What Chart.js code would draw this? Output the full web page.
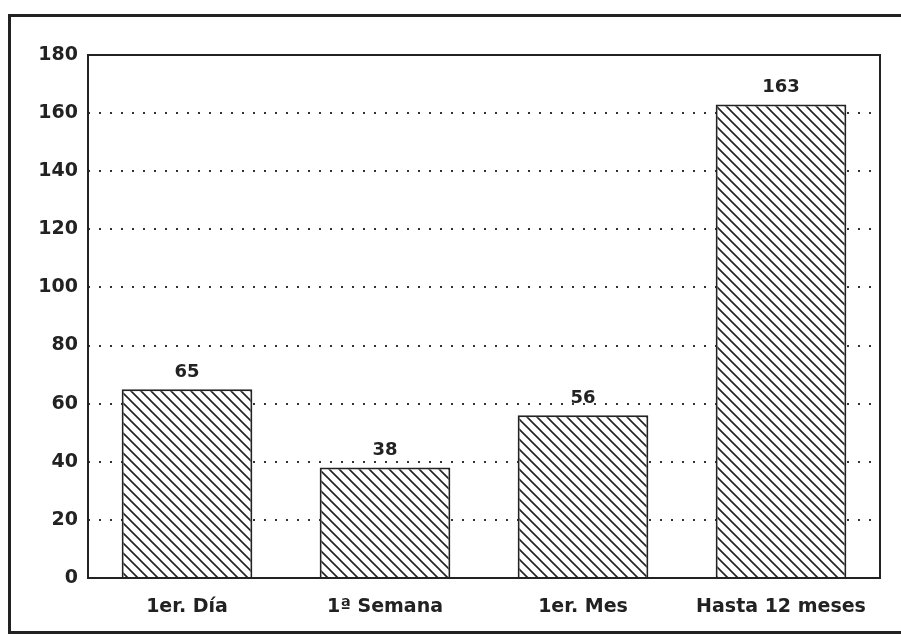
<!DOCTYPE html>
<html>
<head>
<meta charset="utf-8">
<script src="https://cdn.jsdelivr.net/npm/chart.js@4.4.0/dist/chart.umd.min.js"></script>
<style>
  body { margin: 0; background: #fff; }
  #marco { position: absolute; left: 8px; top: 14px; width: 900px; height: 614px;
           border-left: 3px solid #222; border-top: 3px solid #222; border-bottom: 3px solid #222; }
  #grafico { position: absolute; left: 0; top: 0; }
</style>
</head>
<body>
<div id="marco"></div>
<canvas id="grafico" width="901" height="634"></canvas>
<script>
// datos del grafico
var categorias = ['1er. Día', '1ª Semana', '1er. Mes', 'Hasta 12 meses'];
var valores = [65, 38, 56, 163];
var marcasY = [0, 20, 40, 60, 80, 100, 120, 140, 160, 180];

// trama rayada diagonal para las barras
function trama() {
    var c = document.createElement('canvas');
    c.width = 10; c.height = 10;
    var g = c.getContext('2d');
    g.fillStyle = '#fff';
    g.fillRect(0, 0, 10, 10);
    g.strokeStyle = '#222';
    g.lineWidth = 1.6;
    g.beginPath();
    g.moveTo(-2, -2); g.lineTo(12, 12);
    g.moveTo(-2, 8); g.lineTo(2, 12);
    g.moveTo(8, -2); g.lineTo(12, 2);
    g.stroke();
    return g.createPattern(c, 'repeat');
}

var familia = 'DejaVu Sans, Verdana, sans-serif';
var fuente = { family: familia, size: 19, weight: 'bold' };

// marco del area de trazado y etiquetas de valor
var extras = {
    id: 'extras',
    afterDatasetsDraw: function (chart) {
        var ctx = chart.ctx, a = chart.chartArea;
        ctx.save();
        ctx.strokeStyle = '#222';
        ctx.lineWidth = 2;
        ctx.strokeRect(a.left, a.top, a.right - a.left, a.bottom - a.top);
        ctx.fillStyle = '#222';
        ctx.font = 'bold 18px ' + familia;
        ctx.textAlign = 'center';
        ctx.textBaseline = 'bottom';
        chart.getDatasetMeta(0).data.forEach(function (bar, i) {
            ctx.fillText(valores[i], bar.x, bar.y - 8);
        });
        ctx.restore();
    }
};

var ctx = document.getElementById('grafico').getContext('2d');
new Chart(ctx, {
    type: 'bar',
    data: {
        labels: categorias,
        datasets: [{
            data: valores,
            backgroundColor: trama(),
            borderColor: '#222',
            borderWidth: 2,
            barPercentage: 0.66,
            categoryPercentage: 1
        }]
    },
    options: {
        responsive: false,
        animation: false,
        layout: { padding: { left: 0, top: 55, right: 21, bottom: 0 } },
        plugins: { legend: { display: false }, tooltip: { enabled: false } },
        scales: {
            x: {
                grid: { display: false },
                border: { display: false },
                ticks: { color: '#222', font: fuente, padding: 10, maxRotation: 0 },
                afterFit: function (s) { s.height = 56; }
            },
            y: {
                min: 0, max: 180,
                afterBuildTicks: function (s) { s.ticks = marcasY.map(function (v) { return { value: v }; }); },
                grid: {
                    color: function (c) { return (c.tick.value === 0 || c.tick.value === 180) ? 'rgba(0,0,0,0)' : '#333'; },
                    lineWidth: 2,
                    drawTicks: false
                },
                border: { display: false, dash: [2, 9] },
                ticks: { color: '#222', font: fuente, padding: 10 },
                afterFit: function (s) { s.width = 88; }
            }
        }
    },
    plugins: [extras]
});
</script>
</body>
</html>
